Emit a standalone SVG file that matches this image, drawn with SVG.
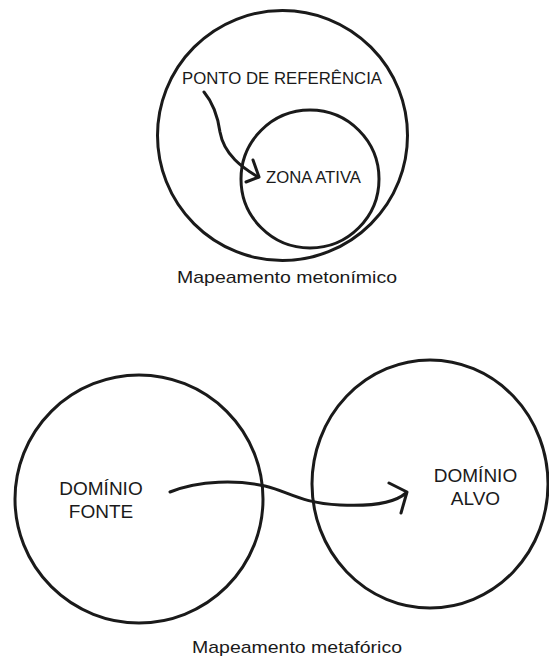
<svg xmlns="http://www.w3.org/2000/svg" width="549" height="659" viewBox="0 0 549 659">
<style>
.c{fill:none;stroke:#1a1a1a;stroke-width:3}
.a{fill:none;stroke:#1a1a1a;stroke-width:3;stroke-linecap:round;stroke-linejoin:round}
text{font-family:"Liberation Sans",Arial,sans-serif;fill:#1a1a1a}
.t{font-size:16px}
.m{font-size:17px}
.d{font-size:19px;text-anchor:middle}
</style>
<rect width="549" height="659" fill="#fff"/>
<g id="metonimico">
<g id="outer"><circle class="c" cx="282.5" cy="135.5" r="125"/></g>
<g id="ponto-ref"><text class="m" x="182" y="84" textLength="200" lengthAdjust="spacingAndGlyphs">PONTO DE REFERÊNCIA</text></g>
<g id="zona-ativa"><circle class="c" cx="310" cy="179" r="69"/>
<text class="t" x="266" y="183" textLength="95" lengthAdjust="spacingAndGlyphs">ZONA ATIVA</text></g>
<text class="m" x="177" y="283" textLength="220" lengthAdjust="spacingAndGlyphs">Mapeamento metonímico</text>
</g>
<g id="metaforico">
<g id="dominio-fonte"><circle class="c" cx="139" cy="499" r="124"/>
<text class="d" x="101" y="495">DOMÍNIO</text>
<text class="d" x="101" y="518">FONTE</text></g>
<g id="dominio-alvo"><ellipse class="c" cx="430" cy="484" rx="118" ry="124"/>
<text class="d" x="475.5" y="482">DOMÍNIO</text>
<text class="d" x="475.5" y="505">ALVO</text></g>
<text class="m" x="192" y="653" textLength="210" lengthAdjust="spacingAndGlyphs">Mapeamento metafórico</text>
</g>
<g id="connectors">
<path class="a" d="M204,92 C214,104 218,118 220,132 C224,155 243,168 258,177"/>
<path class="a" d="M253,160 L259,177 L246,182"/>
<path class="a" d="M170,492 C200,480 238,480 265,486 C290,492 300,503 340,505 C380,507 398,500 406,493"/>
<path class="a" d="M389,483 L407,492 L401,513"/>
</g>
</svg>
